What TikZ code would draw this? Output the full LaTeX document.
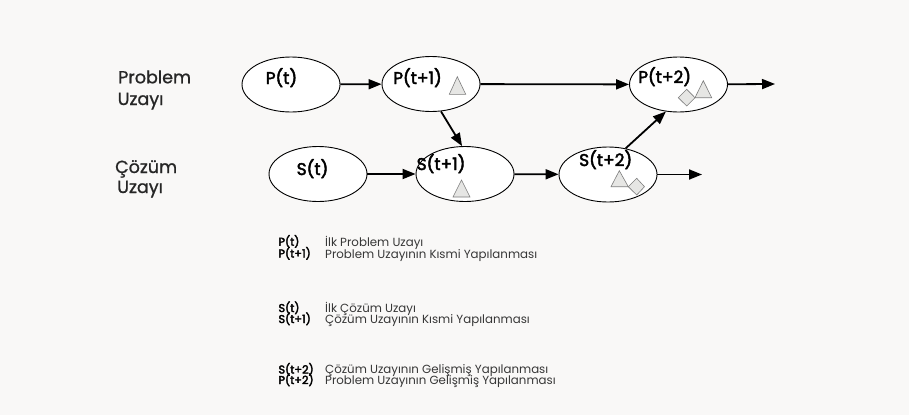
\documentclass[tikz,border=0pt]{standalone}
\usepackage{fontspec}
\setmainfont{Poppins}
\newfontfamily\medfont[FakeBold=2.5]{Poppins}
\newfontfamily\semifont[FakeBold=3]{Poppins}
\newfontfamily\rowfont[FakeBold=1]{Poppins}
\usetikzlibrary{arrows.meta,shapes.geometric}
\definecolor{bg}{RGB}{249,248,247}
\definecolor{glyphfill}{RGB}{230,230,228}
\definecolor{glyphline}{RGB}{125,125,125}
\definecolor{keygray}{RGB}{55,55,55}
\begin{document}
\begin{tikzpicture}[x=1pt,y=-1pt,
  space/.style={ellipse, draw=black, line width=0.9pt, fill=white,
    minimum width=98pt, minimum height=55pt, inner sep=0pt},
  flow/.style={-{Triangle[length=13pt,width=10pt]}, line width=1.8pt},
  nodelbl/.style={font=\medfont\fontsize{17}{20}\selectfont, inner sep=0pt, anchor=base west},
  rowlbl/.style={font=\rowfont\fontsize{17.5}{20}\selectfont, text=black!85, inner sep=0pt, anchor=base west},
  keylbl/.style={font=\semifont\fontsize{11.3}{13}\selectfont, inner sep=0pt, anchor=base west},
  keytxt/.style={font=\fontsize{11.8}{13}\selectfont, text=keygray, inner sep=0pt, anchor=base west},
  glyph/.style={fill=glyphfill, draw=glyphline, line width=0.6pt, line join=miter}]
\fill[bg] (0,0) rectangle (909,415);
\useasboundingbox (0,0) rectangle (909,415);

% row labels
\node[rowlbl] (prob1) at (118,83.3) {Problem};
\node[rowlbl] (prob2) at (117.5,105) {Uzayı};
\node[rowlbl] (coz1) at (115,173) {Çözüm};
\node[rowlbl] (coz2) at (117,193) {Uzayı};

% spaces
\node[space] (pt)  at (291,84.5) {};
\node[space] (pt1) at (431,84) {};
\node[space] (pt2) at (678.5,84.5) {};
\node[space] (st)  at (318,174) {};
\node[space] (st1) at (465,174) {};
\node[space] (st2) at (608,174.5) {};

% labels inside
\node[nodelbl] (ptl)  at (265.5,84) {P(t)};
\node[nodelbl] (pt1l) at (393,84) {P(t+1)};
\node[nodelbl] (pt2l) at (638,83) {P(t+2)};
\node[nodelbl] (stl)  at (296.5,175) {S(t)};
\node[nodelbl] (st1l) at (416.5,170) {S(t+1)};
\node[nodelbl] (st2l) at (579,166) {S(t+2)};

% glyphs
\draw[glyph] (457.3,76.7) -- (465.7,94.3) -- (449.3,94.3) -- cycle;
\draw[glyph] (461.5,180) -- (470,197) -- (453,197) -- cycle;
\draw[glyph] (619.3,170.7) -- (628.3,186.7) -- (611,186.7) -- cycle;
\draw[glyph] (636.7,178.3) -- (644.5,186.7) -- (636.7,195) -- (628.3,186.7) -- cycle;
\draw[glyph] (703.3,80.7) -- (711.7,97.7) -- (695,97.7) -- cycle;
\draw[glyph] (686.7,89.3) -- (695,97.7) -- (686.7,106) -- (678.3,97.7) -- cycle;

% connectors
\coordinate (pend) at (775,84);
\coordinate (send) at (702,174.5);
\draw[flow] (pt) -- (pt1);
\draw[flow] (pt1) -- (pt2);
\draw[flow] (pt2) -- (pend);
\draw[flow] (st) -- (st1);
\draw[flow] (st1) -- (st2);
\draw[flow] (st2) -- (send);
\draw[flow] (pt1.-70) -- (st1.96);
\draw[flow] (st2.56) -- (pt2.-115);

% key
\node[keylbl] (k1) at (278.3,245.7) {P(t)};
\node[keylbl] (k2) at (278.3,257.5) {P(t+1)};
\node[keytxt] (d1) at (325,246.5) {İlk Problem Uzayı};
\node[keytxt] (d2) at (325,258) {Problem Uzayının Kısmi Yapılanması};
\node[keylbl] (k3) at (278.3,312) {S(t)};
\node[keylbl] (k4) at (278.3,323) {S(t+1)};
\node[keytxt] (d3) at (325,312.3) {İlk Çözüm Uzayı};
\node[keytxt] (d4) at (325,323.3) {Çözüm Uzayının Kısmi Yapılanması};
\node[keylbl] (k5) at (278.3,373.5) {S(t+2)};
\node[keylbl] (k6) at (278.3,384) {P(t+2)};
\node[keytxt] (d5) at (325,373.3) {Çözüm Uzayının Gelişmiş Yapılanması};
\node[keytxt] (d6) at (325,384) {Problem Uzayının Gelişmiş Yapılanması};
\end{tikzpicture}
\end{document}
